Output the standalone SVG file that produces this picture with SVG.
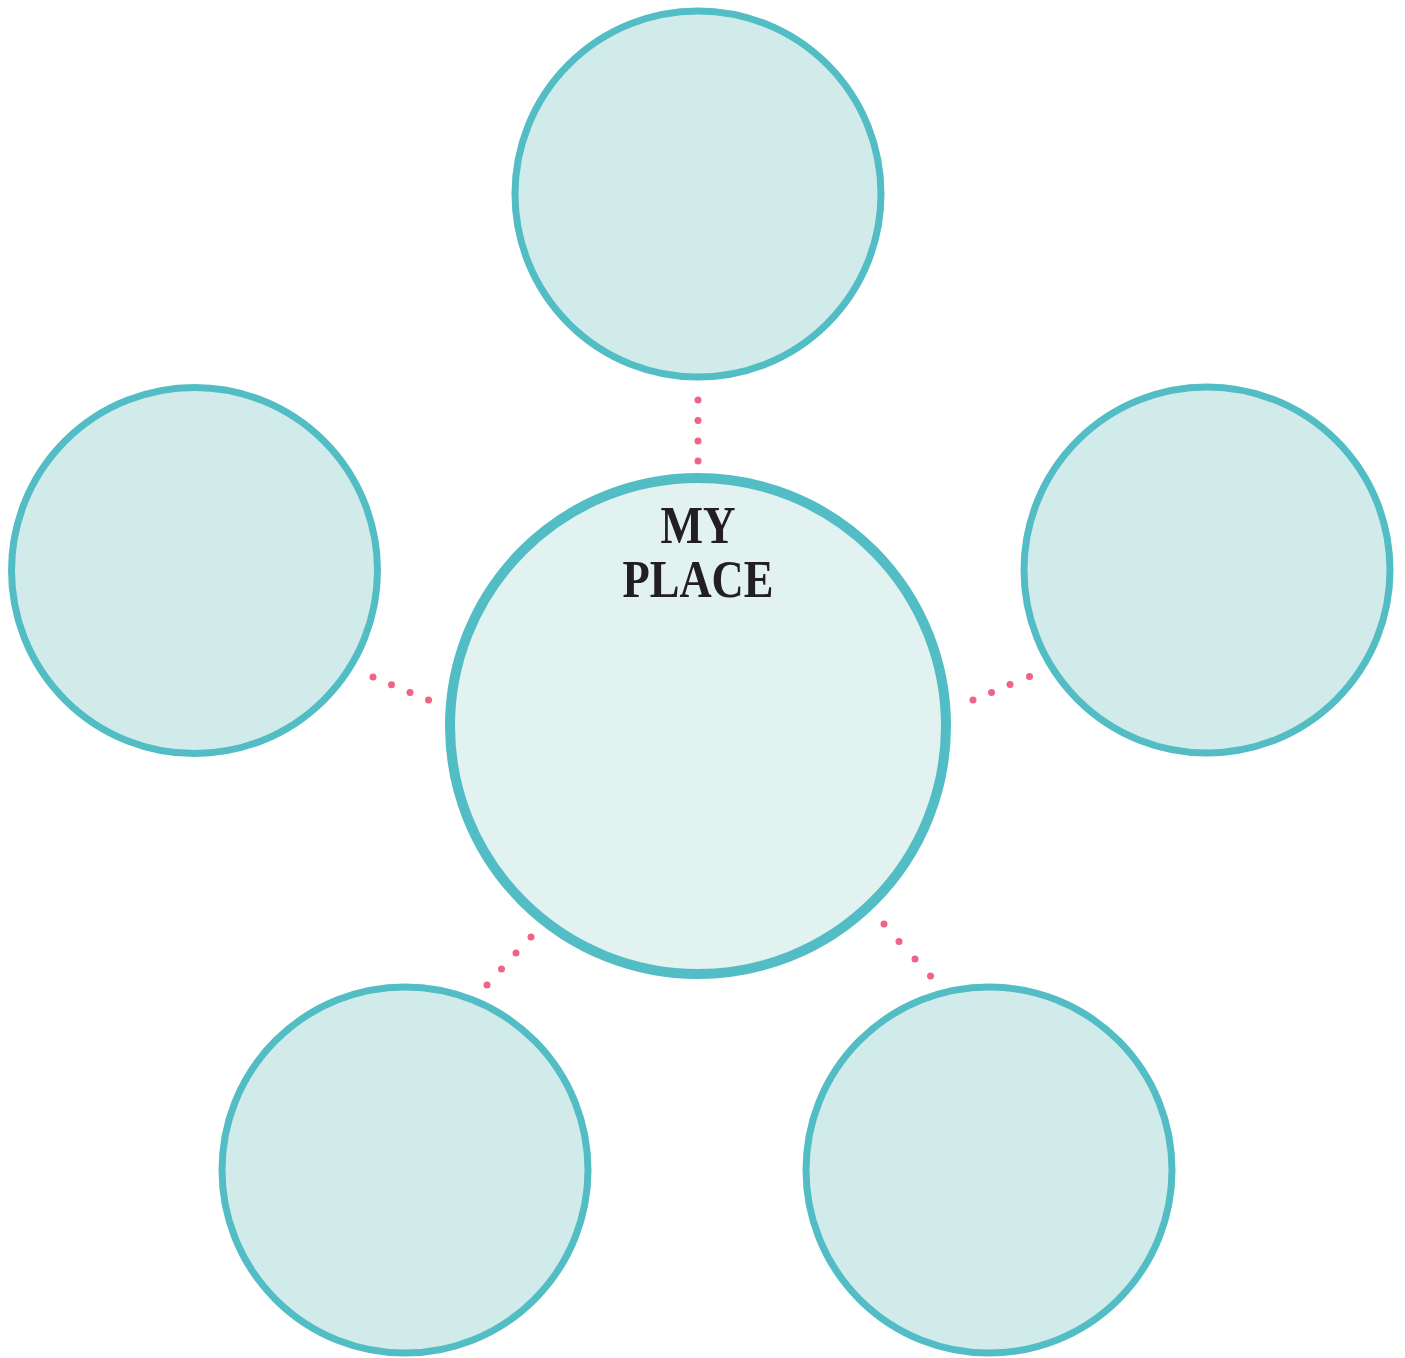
<svg xmlns="http://www.w3.org/2000/svg" width="1405" height="1358" viewBox="0 0 1405 1358">
<style>
.outer{fill:#d1ebea;stroke:#52bdc4;stroke-width:7}
.center{fill:#e1f2f1;stroke:#52bdc4;stroke-width:10}
.dot{fill:#ef6386}
.title{font-family:"Liberation Serif",serif;font-weight:bold;font-size:53px;fill:#231f20;text-anchor:middle}
</style>
<rect width="1405" height="1358" fill="#ffffff"/>
<g id="connectors">
<circle class="dot" cx="698" cy="400" r="3.5"/><circle class="dot" cx="698" cy="420.5" r="3.5"/><circle class="dot" cx="698" cy="441" r="3.5"/><circle class="dot" cx="698" cy="461" r="3.5"/>
<circle class="dot" cx="373" cy="677" r="3.5"/><circle class="dot" cx="391.5" cy="684.7" r="3.5"/><circle class="dot" cx="410" cy="692.5" r="3.5"/><circle class="dot" cx="428.5" cy="700" r="3.5"/>
<circle class="dot" cx="973" cy="700" r="3.5"/><circle class="dot" cx="991.5" cy="692.5" r="3.5"/><circle class="dot" cx="1010" cy="684.5" r="3.5"/><circle class="dot" cx="1029.5" cy="676.5" r="3.5"/>
<circle class="dot" cx="531" cy="937" r="3.5"/><circle class="dot" cx="516" cy="953" r="3.5"/><circle class="dot" cx="501.5" cy="969" r="3.5"/><circle class="dot" cx="487" cy="985" r="3.5"/>
<circle class="dot" cx="884" cy="924" r="3.5"/><circle class="dot" cx="899" cy="941.5" r="3.5"/><circle class="dot" cx="915" cy="959" r="3.5"/><circle class="dot" cx="930.5" cy="976" r="3.5"/>
</g>
<g id="node-top"><circle class="outer" cx="698" cy="194" r="183"/></g>
<g id="node-left"><circle class="outer" cx="194.5" cy="570.5" r="183"/></g>
<g id="node-right"><circle class="outer" cx="1207" cy="570" r="183"/></g>
<g id="node-bottom-left"><circle class="outer" cx="405" cy="1170" r="183"/></g>
<g id="node-bottom-right"><circle class="outer" cx="989" cy="1170" r="183"/></g>
<g id="node-center">
<circle class="center" cx="698" cy="726" r="248"/>
<text class="title" x="698" y="543" textLength="75" lengthAdjust="spacingAndGlyphs">MY</text>
<text class="title" x="698" y="597" textLength="151" lengthAdjust="spacingAndGlyphs">PLACE</text>
</g>
</svg>
